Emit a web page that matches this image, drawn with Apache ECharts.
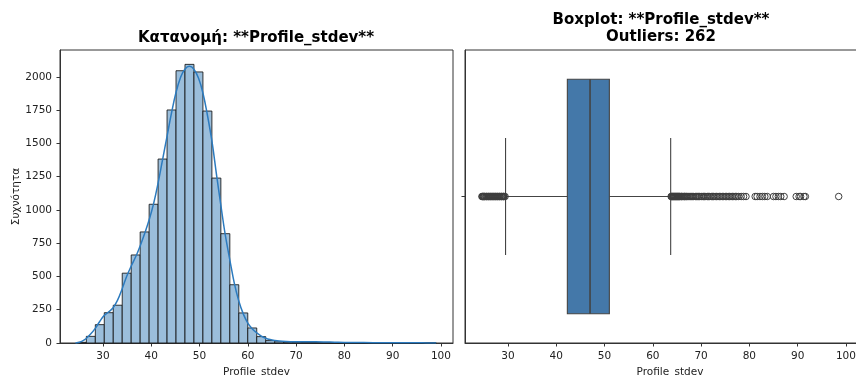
<!DOCTYPE html>
<html>
<head>
<meta charset="utf-8">
<script src="https://cdn.jsdelivr.net/npm/echarts@6/dist/echarts.min.js"></script>
<style>
  html, body { margin: 0; padding: 0; background: #fff; }
  #chart { width: 856px; height: 377px; }
</style>
</head>
<body>
<div id="chart"></div>
<script>
// tick values
const xTicks = [30, 40, 50, 60, 70, 80, 90, 100];
const yTicks = [0, 250, 500, 750, 1000, 1250, 1500, 1750, 2000];

// histogram: 40 equal bins between binStart and binEnd
const binStart = 24.7;
const binEnd = 99.0;
const binCounts = [
  5, 50, 138, 228, 284, 525, 662, 835, 1043, 1383,
  1752, 2047, 2095, 2038, 1744, 1240, 822, 438, 226, 113,
  48, 18, 9, 6, 5, 4, 3, 2, 2, 1,
  1, 1, 1, 0, 1, 0, 1, 0, 0, 1
];

// kde curve
const kdeX = [24.3, 25.0, 25.6, 26.4, 27.4, 28.4, 29.3, 30.2, 31.2, 32.1, 33.0, 34.0, 34.9, 35.8, 36.8,
  37.7, 38.6, 39.6, 40.5, 41.4, 42.3, 43.3, 44.2, 45.1, 46.1, 47.0, 47.9, 48.8, 49.8, 50.7,
  51.6, 52.6, 53.5, 54.4, 55.3, 56.3, 57.2, 58.1, 59.1, 60.0, 60.9, 61.9, 62.8, 63.7, 64.6,
  65.6, 66.5, 68.0, 70.0, 72.0, 74.0, 76.0, 78.0, 80.0, 84.0, 88.0, 92.0, 96.0, 99.0];
const kdeY = [0, 4, 12, 30, 65, 110, 160, 205, 235, 265, 320, 410, 500, 575, 650,
  730, 820, 930, 1050, 1200, 1370, 1560, 1730, 1880, 2000, 2060, 2080, 2060, 1990, 1880,
  1720, 1510, 1270, 1040, 820, 620, 450, 320, 215, 150, 108, 75, 52, 36, 26,
  19, 15, 12, 10, 9, 9, 8, 6, 4, 3, 2, 2, 1, 0];

// boxplot: whisker low, Q1, median, Q3, whisker high
const boxStats = [29.5, 42.3, 47.0, 51.0, 63.7];
const lowOutliers = [24.6, 24.7, 24.8, 24.9, 25.0, 25.1, 25.2, 25.4, 25.5, 25.6, 25.8, 25.9, 26.0,
  26.2, 26.3, 26.4, 26.6, 26.7, 26.8, 27.0, 27.1, 27.2, 27.4, 27.5, 27.6, 27.8, 27.9, 28.0,
  28.2, 28.3, 28.4, 28.6, 28.7, 28.8, 29.0, 29.1, 29.2, 29.4];
const highOutliers = [63.8, 63.9, 64.0, 64.1, 64.2, 64.3, 64.4, 64.5, 64.6, 64.7, 64.8, 64.9,
  65.0, 65.1, 65.2, 65.3, 65.4, 65.5, 65.6, 65.8, 65.9, 66.0, 66.2, 66.3, 66.5, 66.6, 66.8,
  67.0, 67.1, 67.3, 67.5, 67.7, 67.9, 68.1, 68.3, 68.5, 68.8, 69.0, 69.2, 69.5, 69.7, 70.0,
  70.2, 70.5, 70.7, 71.0, 71.3, 71.5, 71.8, 72.1, 72.4, 72.6, 72.9, 73.2, 73.5, 73.8, 74.1,
  74.4, 74.7, 75.0, 75.3, 75.6, 75.9, 76.2, 76.5, 76.8, 77.1, 77.4, 77.8, 78.3, 78.8, 79.3,
  81.2, 81.6, 82.2, 82.7, 83.2, 83.7, 85.0, 85.5, 86.0, 86.5, 87.2, 89.7, 90.3, 90.6, 91.3,
  91.6, 98.5];

const FONT = "DejaVu Sans";
const AXIS_COLOR = "#333";

const binWidth = (binEnd - binStart) / binCounts.length;
const histData = binCounts.map((c, i) => [binStart + i * binWidth, binStart + (i + 1) * binWidth, c]);
const kdeData = kdeX.map((x, i) => [x, kdeY[i]]);
const outlierData = lowOutliers.concat(highOutliers).map(v => [v, 0]);

const chart = echarts.init(document.getElementById("chart"), null, { renderer: "canvas" });

const tickLabel = { color: "#222", fontSize: 10.5, fontFamily: FONT, formatter: v => String(v) };

// both panels share the same x scale; the right one runs past the canvas edge
function xAxisFor(gridIndex, max) {
  return {
    type: "value",
    gridIndex,
    min: 21.1,
    max,
    name: "Profile_stdev",
    nameLocation: "middle",
    nameGap: 23,
    nameTextStyle: { color: "#222", fontSize: 10.5, fontFamily: FONT },
    axisLine: { show: true, lineStyle: { color: AXIS_COLOR, width: 1 } },
    axisTick: { show: true, length: 3.5, lineStyle: { color: AXIS_COLOR }, customValues: xTicks },
    axisLabel: { ...tickLabel, margin: 8, customValues: xTicks },
    splitLine: { show: false }
  };
}

const titleFont = `bold 15px "${FONT}"`;

const option = {
  animation: false,
  backgroundColor: "#fff",
  graphic: [
    { type: "text", x: 256, y: 38, style: { text: "Κατανομή: **Profile_stdev**", font: titleFont, fill: "#000", textAlign: "center", textVerticalAlign: "middle" } },
    { type: "text", x: 661, y: 20, style: { text: "Boxplot: **Profile_stdev**", font: titleFont, fill: "#000", textAlign: "center", textVerticalAlign: "middle" } },
    { type: "text", x: 661, y: 37.5, style: { text: "Outliers: 262", font: titleFont, fill: "#000", textAlign: "center", textVerticalAlign: "middle" } }
  ],
  grid: [
    { left: 60, top: 50, width: 393, height: 293, show: true, borderColor: AXIS_COLOR, borderWidth: 1, containLabel: false, outerBoundsMode: "none" },
    { left: 465, top: 50, width: 410, height: 293, show: true, borderColor: AXIS_COLOR, borderWidth: 1, containLabel: false, outerBoundsMode: "none" }
  ],
  xAxis: [xAxisFor(0, 102.5), xAxisFor(1, 21.1 + 410 * 81.4 / 393)],
  yAxis: [
    {
      type: "value",
      gridIndex: 0,
      min: 0,
      max: 2203,
      name: "Συχνότητα",
      nameLocation: "middle",
      nameGap: 37,
      nameTextStyle: { color: "#222", fontSize: 10.5, fontFamily: FONT },
      axisLine: { show: true, lineStyle: { color: AXIS_COLOR, width: 1 } },
      axisTick: { show: true, length: 3.5, lineStyle: { color: AXIS_COLOR }, customValues: yTicks },
      axisLabel: { ...tickLabel, margin: 8, customValues: yTicks },
      splitLine: { show: false }
    },
    {
      type: "category",
      gridIndex: 1,
      data: [""],
      axisLine: { show: true, lineStyle: { color: AXIS_COLOR, width: 1 } },
      axisTick: { show: true, length: 3.5, alignWithLabel: true, lineStyle: { color: AXIS_COLOR } },
      axisLabel: { show: false },
      splitLine: { show: false }
    }
  ],
  series: [
    {
      type: "custom",
      name: "hist",
      xAxisIndex: 0,
      yAxisIndex: 0,
      data: histData,
      encode: { x: [0, 1], y: 2 },
      renderItem: (params, api) => {
        const p0 = api.coord([api.value(0), api.value(2)]);
        const p1 = api.coord([api.value(1), 0]);
        return {
          type: "rect",
          shape: { x: p0[0], y: p0[1], width: p1[0] - p0[0], height: p1[1] - p0[1] },
          style: { fill: "#9bbedb", stroke: "rgba(20,20,20,0.85)", lineWidth: 1 }
        };
      }
    },
    {
      type: "line",
      name: "kde",
      xAxisIndex: 0,
      yAxisIndex: 0,
      data: kdeData,
      smooth: 0.4,
      showSymbol: false,
      lineStyle: { color: "#2c7bbf", width: 1.5 },
      z: 3
    },
    {
      type: "custom",
      name: "box",
      xAxisIndex: 1,
      yAxisIndex: 1,
      data: [[0].concat(boxStats)],
      encode: { y: 0, x: [1, 2, 3, 4, 5] },
      renderItem: (params, api) => {
        const band = api.size([0, 1])[1];
        const half = band * 0.4;
        const capHalf = band * 0.2;
        const lo = api.coord([api.value(1), 0]);
        const q1 = api.coord([api.value(2), 0]);
        const md = api.coord([api.value(3), 0]);
        const q3 = api.coord([api.value(4), 0]);
        const hi = api.coord([api.value(5), 0]);
        const cy = md[1];
        const lineStyle = { stroke: "#444", lineWidth: 1.1 };
        return {
          type: "group",
          children: [
            { type: "line", shape: { x1: lo[0], y1: cy, x2: q1[0], y2: cy }, style: lineStyle },
            { type: "line", shape: { x1: q3[0], y1: cy, x2: hi[0], y2: cy }, style: lineStyle },
            { type: "line", shape: { x1: lo[0], y1: cy - capHalf, x2: lo[0], y2: cy + capHalf }, style: lineStyle },
            { type: "line", shape: { x1: hi[0], y1: cy - capHalf, x2: hi[0], y2: cy + capHalf }, style: lineStyle },
            { type: "rect", shape: { x: q1[0], y: cy - half, width: q3[0] - q1[0], height: half * 2 }, style: { fill: "#4478a9", stroke: "#444", lineWidth: 1.1 } },
            { type: "line", shape: { x1: md[0], y1: cy - half, x2: md[0], y2: cy + half }, style: { stroke: "#444", lineWidth: 1.6 } }
          ]
        };
      }
    },
    {
      type: "scatter",
      name: "outliers",
      xAxisIndex: 1,
      yAxisIndex: 1,
      data: outlierData,
      symbol: "circle",
      symbolSize: 6.5,
      itemStyle: { color: "rgba(0,0,0,0)", borderColor: "#3d3d3d", borderWidth: 1, opacity: 1 },
      z: 3
    }
  ]
};

chart.setOption(option);
</script>
</body>
</html>
